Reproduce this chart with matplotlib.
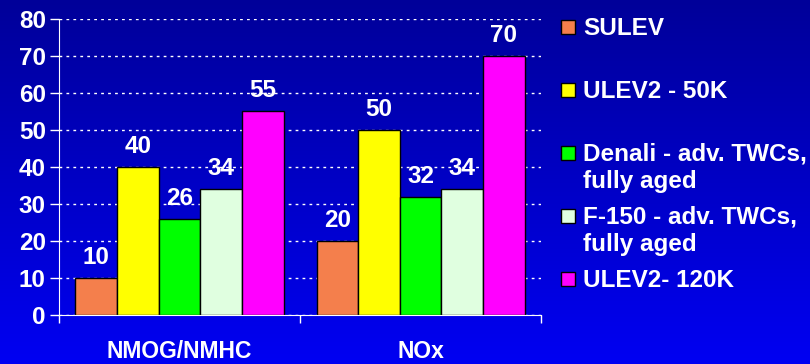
import matplotlib
matplotlib.use("Agg")
import matplotlib.pyplot as plt
import numpy as np
from matplotlib.patches import Rectangle

# dados
categorias = ["NMOG/NMHC", "NOx"]
series = ["SULEV", "ULEV2 - 50K", "Denali - adv. TWCs,\nfully aged",
          "F-150 - adv. TWCs,\nfully aged", "ULEV2- 120K"]
valores = [[10, 20],
           [40, 50],
           [26, 32],
           [34, 34],
           [55, 70]]
cores = ["#F47F4C", "#FFFF00", "#00FF00", "#E0FFE0", "#FF00FF"]
yticks = [0, 10, 20, 30, 40, 50, 60, 70, 80]

plt.rcParams["font.family"] = ["Liberation Sans", "DejaVu Sans"]
plt.rcParams["font.weight"] = "bold"

fig = plt.figure(figsize=(8.1, 3.64), dpi=100)

# fundo em gradiente azul
bg = fig.add_axes([0, 0, 1, 1], zorder=-10)
grad = np.zeros((256, 1, 3))
grad[:, 0, 2] = np.linspace(0.60, 0.95, 256)
bg.imshow(grad, aspect="auto", extent=[0, 1, 0, 1], origin="upper")
bg.axis("off")

ax = fig.add_axes([0.0728, 0.1346, 0.5952, 0.8134])
ax.patch.set_alpha(0)

x = np.arange(len(categorias))
w = 0.1726
for i, (nome, vals, cor) in enumerate(zip(series, valores, cores)):
    pos = x + (i - 2) * w
    barras = ax.bar(pos, vals, width=w, color=cor, edgecolor="black",
                    linewidth=1.0, zorder=3)
    for b, v in zip(barras, vals):
        ax.annotate(str(v), (b.get_x() + b.get_width() / 2, v),
                    xytext=(0, 6.5), textcoords="offset points",
                    ha="center", va="bottom", color="white",
                    fontsize=17.5, fontweight="bold")

ax.set_xlim(-0.5, 1.5)
ax.set_ylim(0, 80)
ax.set_yticks(yticks)
ax.set_xticks(x)
ax.set_xticklabels(categorias)
ax.set_xticks([-0.5, 0.5, 1.5], minor=True)

ax.tick_params(axis="y", colors="white", labelsize=17.5, length=6.5,
               width=1, direction="out", pad=3)
ax.tick_params(axis="x", which="major", colors="white", labelsize=16.5,
               length=0, pad=18)
ax.tick_params(axis="x", which="minor", colors="white", length=6,
               width=1, direction="out")
for lbl in ax.get_yticklabels() + ax.get_xticklabels():
    lbl.set_fontweight("bold")

for lado in ["top", "right"]:
    ax.spines[lado].set_visible(False)
ax.spines["left"].set_color("white")
ax.spines["bottom"].set_color("white")
ax.spines["bottom"].set_zorder(5)

ax.yaxis.grid(True, color="white", linestyle=(0, (2, 3)), linewidth=1)
ax.set_axisbelow(True)

# legenda manual
y0 = 1 - 27 / 364
passo = 63 / 364
for i, (nome, cor) in enumerate(zip(series, cores)):
    yy = y0 - i * passo
    fig.patches.append(Rectangle((561 / 810, yy - 7 / 364), 14 / 810, 14 / 364,
                                 transform=fig.transFigure, facecolor=cor,
                                 edgecolor="black", linewidth=1))
    fig.text(583 / 810, yy + 10 / 364, nome, color="white", fontsize=17.5,
             fontweight="bold", va="top", ha="left", linespacing=1.25)

fig.savefig("out.png", dpi=100)
